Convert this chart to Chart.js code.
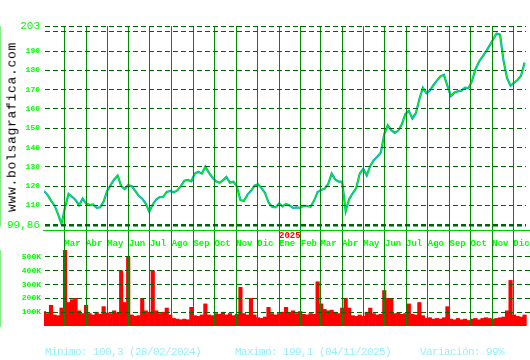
<!DOCTYPE html>
<html>
<head>
<meta charset="utf-8">
<title>bolsagrafica</title>
<script src="https://cdn.jsdelivr.net/npm/chart.js@4.4.1/dist/chart.umd.min.js"></script>
<style>
  html, body { margin: 0; padding: 0; background: #fff; }
  #wrap { position: relative; width: 530px; height: 360px; overflow: hidden; }
  canvas { position: absolute; left: 0; }
  #priceChart { top: 0; }
  #volChart { top: 230px; }
  .site {
    position: absolute; left: 12px; top: 127px;
    transform: translate(-50%, -50%) rotate(-90deg);
    font: 13px "Liberation Mono", monospace; letter-spacing: 0.7px;
    color: #000; white-space: nowrap;
  }
  .stats {
    position: absolute; top: 346px; line-height: 12px;
    font: 11px "Liberation Mono", monospace; letter-spacing: -0.6px;
    color: #96f0fa; white-space: nowrap;
  }
</style>
</head>
<body>
<div id="wrap">
  <canvas id="priceChart" width="530" height="250"></canvas>
  <canvas id="volChart" width="530" height="110"></canvas>
  <div class="site">www.bolsagrafica.com</div>
  <div class="stats" style="left:45px">Minimo: 100,3 (28/02/2024)</div>
  <div class="stats" style="left:235px">Maximo: 199,1 (04/11/2025)</div>
  <div class="stats" style="left:420px">Variación: 99%</div>
</div>
<script>
// sampled every 5 days starting 01/02/2024
const startDate = "2024-02-01"
const stepDays = 5

const closes = [
  117.5, 115.5, 112.5, 110, 105.5, 100.3, 109, 116, 114.5, 112.8,
  110, 113.5, 111, 110.2, 110.5, 108.7, 109, 112, 117.5, 120.5,
  123.5, 125.5, 120, 118.5, 120.6, 120, 117.5, 115, 113.5, 111,
  106.8, 110.5, 113, 114.3, 114.5, 117, 117.5, 116.8, 117.8, 120,
  122.8, 123.2, 122.5, 126.5, 127.5, 126.5, 130, 127, 124.5, 122.5,
  121.7, 123, 124.7, 121.8, 122.3, 119.7, 112.8, 112.3, 115.6, 117.6,
  120.2, 121, 119, 116.5, 111.5, 109.3, 109, 111, 109.5, 110.8,
  110, 108.7, 109, 108.8, 109.8, 109.7, 109.3, 112.5, 117, 118,
  118.7, 121, 126.5, 123.5, 122.3, 122.3, 107, 113.3, 116.3, 119,
  126.5, 129, 125.5, 130.5, 133.4, 135.2, 137.3, 147, 151.4, 149,
  147.6, 148.8, 152, 157.3, 159, 155.1, 157.8, 165, 171, 168.2,
  169.6, 172.3, 174.7, 176.9, 177.7, 172, 166.7, 168.5, 169.1, 169.5,
  171.1, 170.8, 174.4, 180.6, 184.5, 187.1, 189.8, 192.8, 196, 199.1,
  198.5, 185, 176, 172, 173.6, 175, 177.3, 184,
]

// volume in thousands
const volumes = [
  105, 90, 150, 80, 75, 130, 560, 170, 190, 200,
  110, 90, 150, 90, 80, 100, 85, 140, 95, 90,
  110, 95, 400, 170, 500, 80, 70, 75, 200, 110,
  100, 400, 110, 90, 100, 130, 80, 55, 50, 45,
  50, 45, 135, 75, 70, 80, 160, 80, 75, 90,
  85, 100, 80, 90, 75, 85, 280, 90, 80, 200,
  80, 60, 55, 65, 135, 90, 80, 90, 100, 135,
  100, 110, 90, 105, 85, 80, 90, 85, 320, 160,
  120, 110, 115, 100, 90, 130, 200, 130, 75, 70,
  80, 70, 100, 130, 90, 80, 85, 257, 200, 195,
  90, 95, 85, 90, 160, 85, 80, 170, 75, 55,
  60, 50, 55, 50, 60, 140, 50, 45, 55, 45,
  50, 40, 50, 55, 45, 55, 60, 55, 50, 55,
  60, 65, 110, 330, 80, 70, 65, 80,
]

const monthStarts = [
  "2024-03-01", "2024-04-01", "2024-05-01", "2024-06-01", "2024-07-01", "2024-08-01",
  "2024-09-01", "2024-10-01", "2024-11-01", "2024-12-01", "2025-01-01", "2025-02-01",
  "2025-03-01", "2025-04-01", "2025-05-01", "2025-06-01", "2025-07-01", "2025-08-01",
  "2025-09-01", "2025-10-01", "2025-11-01", "2025-12-01",
]
const monthLabels = [
  "Mar", "Abr", "May", "Jun", "Jul", "Ago", "Sep", "Oct", "Nov", "Dic", "Ene", "Feb",
  "Mar", "Abr", "May", "Jun", "Jul", "Ago", "Sep", "Oct", "Nov", "Dic",
]
const yearMark = "2025-01-01"

const priceTicks = [99.86, 110, 120, 130, 140, 150, 160, 170, 180, 190, 200, 203]
const volumeTicks = [100, 200, 300, 400, 500]

const FONT = '"Liberation Mono", monospace'
const LIME = "#00ff00"
const DASH_GREEN = "#006400"
const VLINE_GREEN = "#008c00"
const AXIS_GREEN = "#00dd00"

Chart.defaults.font.family = FONT

const dayOf = (s) => (Date.parse(s) - Date.parse(startDate)) / 864e5
const monthDays = monthStarts.map(dayOf)
const priceMaxDay = 687

const pricePoints = closes.map((v, i) => ({ x: i * stepDays, y: v }))
const volPoints = volumes.map((v, i) => ({ x: i * stepDays, y: v }))

const monthAxis = (maxDay) => ({
  type: "linear",
  min: 0,
  max: maxDay,
  offset: false,
  afterBuildTicks: (scale) => {
    scale.ticks = monthDays.map((d) => ({ value: d }))
  },
  border: { display: false },
})

// red year mark over "Ene"
const yearLabel = {
  id: "yearLabel",
  afterDraw(chart) {
    const x = chart.scales.x.getPixelForValue(dayOf(yearMark))
    const ctx = chart.ctx
    ctx.save()
    ctx.font = "bold 9px " + FONT
    ctx.fillStyle = "#ff0000"
    ctx.textBaseline = "middle"
    ctx.fillText("2025", x, 236)
    ctx.restore()
  },
}

new Chart(document.getElementById("priceChart"), {
  type: "line",
  data: {
    datasets: [
      { data: pricePoints, borderColor: LIME, borderWidth: 1, pointRadius: 0, order: 1 },
      { data: pricePoints, borderColor: "#00a8b4", borderWidth: 2.2, pointRadius: 0, order: 2 },
    ],
  },
  options: {
    responsive: false,
    animation: false,
    devicePixelRatio: 1,
    layout: { padding: { top: 26, right: 4, bottom: 0, left: 0 } },
    plugins: { legend: { display: false }, tooltip: { enabled: false } },
    scales: {
      x: {
        ...monthAxis(priceMaxDay),
        afterFit: (scale) => { scale.height = 25 },
        grid: { color: VLINE_GREEN, lineWidth: 1, drawTicks: true, tickLength: 25, z: 1 },
        ticks: {
          autoSkip: false,
          maxRotation: 0,
          align: "start",
          padding: -11.4,
          color: LIME,
          font: { size: 9, weight: "bold" },
          callback: (v, i) => monthLabels[i],
        },
      },
      y: {
        min: 99.86,
        max: 203,
        afterBuildTicks: (scale) => {
          scale.ticks = priceTicks.map((v) => ({ value: v }))
        },
        afterFit: (scale) => { scale.width = 44 },
        grid: {
          color: DASH_GREEN,
          drawTicks: false,
          z: 1,
          lineWidth: (c) => (c.tick && c.tick.value === 99.86 ? 2.5 : 1),
        },
        border: { display: true, color: AXIS_GREEN, width: 1, dash: [5, 3] },
        ticks: {
          padding: 4,
          color: LIME,
          font: (c) =>
            c.tick && (c.tick.value === 203 || c.tick.value === 99.86)
              ? { family: FONT, size: 11 }
              : { family: FONT, size: 8, weight: "bold" },
          callback: (v) => (v === 99.86 ? "99,86" : v === 200 ? "" : String(v)),
        },
      },
    },
  },
  plugins: [yearLabel],
})

new Chart(document.getElementById("volChart"), {
  type: "bar",
  data: {
    datasets: [
      {
        data: volPoints,
        backgroundColor: "#ff0000",
        borderWidth: 0,
        barPercentage: 1,
        categoryPercentage: 1,
      },
    ],
  },
  options: {
    responsive: false,
    animation: false,
    devicePixelRatio: 1,
    layout: { padding: { top: 20, right: 0, bottom: 14, left: 0 } },
    plugins: { legend: { display: false }, tooltip: { enabled: false } },
    scales: {
      x: {
        ...monthAxis(priceMaxDay * 486 / 482),
        afterFit: (scale) => { scale.height = 0 },
        grid: { color: VLINE_GREEN, lineWidth: 1, drawTicks: false, offset: false, z: 1 },
        ticks: { display: false },
        border: { display: true, color: "#00cc00", width: 2 },
      },
      y: {
        min: 0,
        max: 550,
        afterBuildTicks: (scale) => {
          scale.ticks = volumeTicks.map((v) => ({ value: v }))
        },
        afterFit: (scale) => { scale.width = 44 },
        grid: { color: DASH_GREEN, drawTicks: false, z: 1 },
        border: { display: true, color: AXIS_GREEN, width: 1, dash: [5, 3] },
        ticks: {
          padding: 3,
          color: LIME,
          font: { size: 8, weight: "bold" },
          callback: (v) => v + "K",
        },
      },
    },
  },
})
</script>
</body>
</html>
